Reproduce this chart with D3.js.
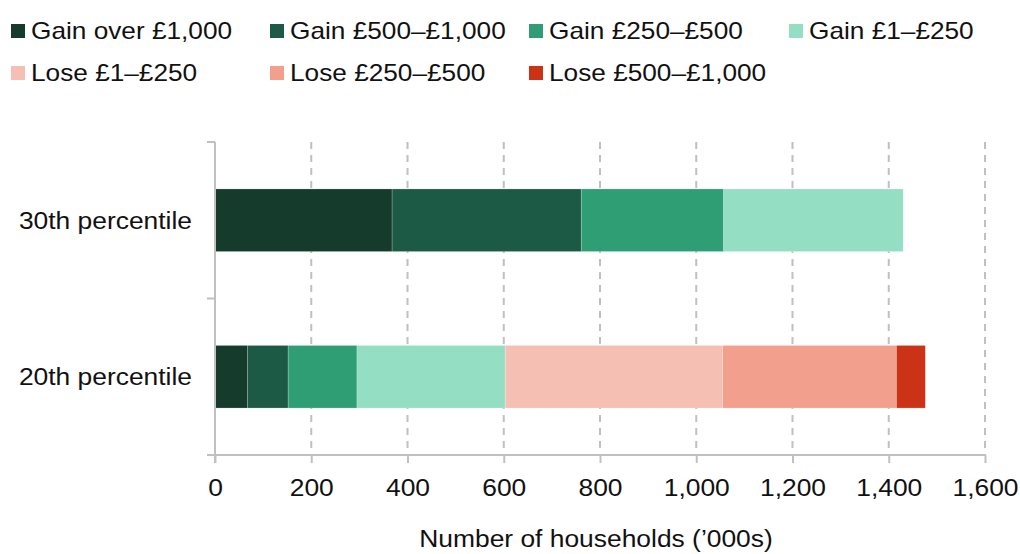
<!DOCTYPE html>
<html><head><meta charset="utf-8">
<script src="https://cdn.jsdelivr.net/npm/d3@7"></script>
<style>body{margin:0;background:#fff}svg{display:block;font-family:"Liberation Sans",Arial,sans-serif}</style>
</head><body><svg id="c" width="1020" height="554"></svg>
<script>
const categories = ["30th percentile", "20th percentile"];
const seriesNames = ["Gain over £1,000","Gain £500–£1,000","Gain £250–£500","Gain £1–£250","Lose £1–£250","Lose £250–£500","Lose £500–£1,000"];
const seriesColors = ["#143b2c","#1d5a45","#2f9e74","#94dfc4","#f6bfb3","#f29f8e","#cb3216"];
const values30 = [368, 393, 296, 373, 0, 0, 0];
const values20 = [68, 84, 143, 308, 452, 361, 60];
const xTicks = [0,200,400,600,800,1000,1200,1400,1600];
const xTitle = "Number of households (’000s)";

const svg = d3.select("#c");
const x0 = 215, x1 = 985, yTop = 142, yBot = 455;
const SX = 1.1;
const x = d3.scaleLinear().domain([0,1600]).range([x0,x1]);
const y = d3.scaleBand().domain(categories).range([yTop,yBot]).paddingInner(0.6).paddingOuter(0.3);

// gridlines
svg.append("g").selectAll("line").data(xTicks.slice(1)).join("line")
  .attr("x1",d=>x(d)).attr("x2",d=>x(d)).attr("y1",yTop).attr("y2",yBot)
  .attr("stroke","#c0c0c0").attr("stroke-width",2).attr("stroke-dasharray","7,6");

// bars
const rows = [values30, values20];
const data = categories.map((c,i)=>{const o={cat:c}; seriesNames.forEach((s,j)=>o[s]=rows[i][j]); return o;});
const stack = d3.stack().keys(seriesNames)(data);
svg.append("g").selectAll("g").data(stack).join("g")
  .attr("fill",(d,i)=>seriesColors[i])
  .selectAll("rect").data(d=>d).join("rect")
  .attr("x",d=>x(d[0])).attr("width",d=>x(d[1])-x(d[0]))
  .attr("y",d=>y(d.data.cat)).attr("height",y.bandwidth())
  .attr("stroke","rgba(255,255,255,0.35)").attr("stroke-width",d=>x(d[1])-x(d[0])>0?0.6:0);

// axes
const ax = svg.append("g").attr("stroke","#c0c0c0").attr("stroke-width",2);
ax.append("line").attr("x1",x0).attr("x2",x0).attr("y1",yTop).attr("y2",yBot+8);
ax.append("line").attr("x1",x0-8).attr("x2",x1).attr("y1",yBot).attr("y2",yBot);
[yTop, (yTop+yBot)/2].forEach(v=>ax.append("line").attr("x1",x0-8).attr("x2",x0).attr("y1",v).attr("y2",v));
const xa = svg.append("g").attr("transform",`translate(0,${yBot})`)
  .call(d3.axisBottom(x).tickValues(xTicks).tickSize(8).tickSizeOuter(0).tickFormat(d3.format(",")));
xa.select(".domain").remove();
xa.selectAll(".tick line").attr("stroke","#c0c0c0").attr("stroke-width",2);
xa.selectAll(".tick text").attr("font-size",24).attr("fill","#111").attr("dy",0).attr("y",0)
  .attr("transform",`translate(0,41) scale(${SX},1)`).attr("font-family","Liberation Sans, Arial, sans-serif");

// category labels
svg.append("g").selectAll("text").data(categories).join("text")
  .attr("transform",d=>`translate(192,${y(d)+y.bandwidth()/2}) scale(${SX},1)`).attr("dy","0.35em")
  .attr("text-anchor","end").attr("font-size",24).attr("fill","#111").text(d=>d);

svg.append("text").attr("transform",`translate(${(x0+x1)/2-4},547) scale(${SX},1)`).attr("text-anchor","middle")
  .attr("font-size",24).attr("fill","#111").text(xTitle);

// legend
const legX = [11,270,529,789];
const lg = svg.append("g").selectAll("g").data(seriesNames).join("g")
  .attr("transform",(d,i)=>`translate(${legX[i%4]},${24+Math.floor(i/4)*42})`);
lg.append("rect").attr("width",14).attr("height",14).attr("fill",(d,i)=>seriesColors[i]);
lg.append("text").attr("transform",`translate(20,7) scale(1.14,1)`).attr("dy","0.36em").attr("font-size",23).attr("fill","#111").text(d=>d);
</script></body></html>
